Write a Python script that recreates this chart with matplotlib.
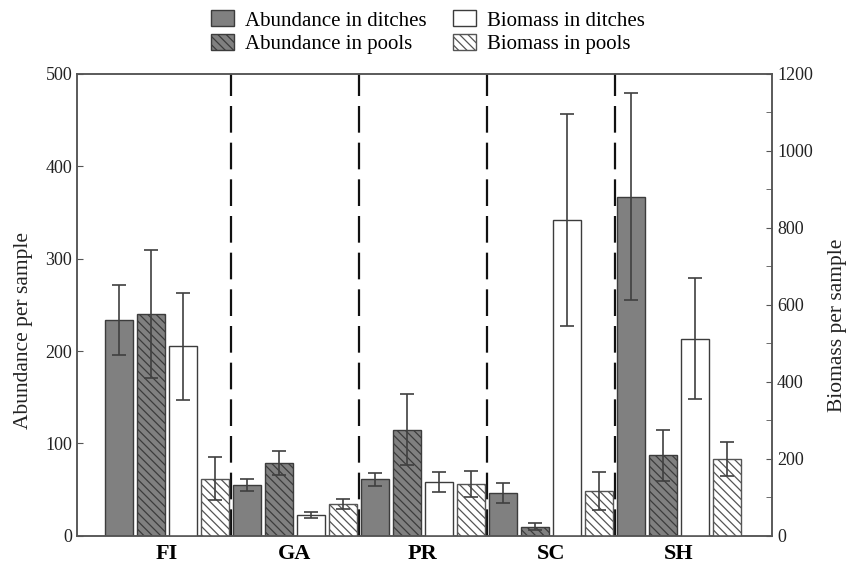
import numpy as np
import matplotlib
matplotlib.use("Agg")
from matplotlib import pyplot as plt
from matplotlib.ticker import MultipleLocator

plt.rcParams['font.family'] = ['Liberation Serif', 'DejaVu Serif']
plt.rcParams['hatch.linewidth'] = 0.9

# Data
sites = ["FI", "GA", "PR", "SC", "SH"]
abund_ditch = [234, 55, 61, 46, 367]
abund_ditch_err = [38, 6.5, 7.5, 11, 112]
abund_pool = [240, 79, 115, 10, 87]
abund_pool_err = [69, 13, 38, 3.6, 28]
bio_ditch = [492, 54, 140, 821, 512]
bio_ditch_err = [140, 7, 27, 276, 157]
bio_pool = [148, 83, 135, 116, 200]
bio_pool_err = [56, 13, 33, 49, 44]

edge = "#3c3c3c"
grey = "#808080"
width = 0.86

fig = plt.figure(figsize=(8.56, 5.64), dpi=100)
ax = fig.add_axes([0.090, 0.050, 0.812, 0.819])
ax2 = ax.twinx()

base = np.arange(len(sites)) * 4
err_kw = dict(ecolor="#404040", elinewidth=1.2, capsize=5, capthick=1.2)

b1 = ax.bar(base + 0, abund_ditch, width, yerr=abund_ditch_err, color=grey,
            edgecolor=edge, linewidth=1, error_kw=err_kw, label="Abundance in ditches")
b2 = ax.bar(base + 1, abund_pool, width, yerr=abund_pool_err, color=grey,
            edgecolor=edge, linewidth=1, hatch="\\\\\\\\", error_kw=err_kw,
            label="Abundance in pools")
b3 = ax2.bar(base + 2, bio_ditch, width, yerr=bio_ditch_err, color="white",
             edgecolor=edge, linewidth=1, error_kw=err_kw, label="Biomass in ditches")
b4 = ax2.bar(base + 3, bio_pool, width, yerr=bio_pool_err, color="white",
             edgecolor="#555555", linewidth=1, hatch="\\\\\\\\", error_kw=err_kw,
             label="Biomass in pools")

# dashed separators between sites
for xv in base[1:] - 0.5:
    ax.axvline(xv, color="#111111", lw=1.6, linestyle=(0, (12, 4.5)), zorder=0.5)

ax.set_xlim(-1.305, 20.414)
ax.set_ylim(0, 500)
ax2.set_ylim(0, 1200)
ax.yaxis.set_major_locator(MultipleLocator(100))
ax2.yaxis.set_major_locator(MultipleLocator(200))
ax2.yaxis.set_minor_locator(MultipleLocator(100))

ax.set_xticks(base + 1.5)
ax.set_xticklabels(sites, fontsize=16, fontweight="bold")
ax.tick_params(axis="x", length=0, pad=6)
ax.tick_params(axis="y", direction="in", length=4, labelsize=13, colors="#555555",
               labelcolor="#222222")
ax2.tick_params(axis="y", which="both", direction="in", length=4, labelsize=13,
                colors="#555555", labelcolor="#222222")

for a in (ax, ax2):
    for s in a.spines.values():
        s.set_color("#555555")
        s.set_linewidth(1.1)

ax.set_ylabel("Abundance per sample", fontsize=15.5, color="#222222")
ax2.set_ylabel("Biomass per sample", fontsize=15.5, color="#222222")
ax.yaxis.set_label_coords(-0.064, 0.444)
ax2.yaxis.set_label_coords(1.081, 0.455)

fig.legend(handles=[b1, b2, b3, b4], loc="upper center", bbox_to_anchor=(0.5, 1.0),
           ncol=2, frameon=False, fontsize=15, handlelength=1.1, handleheight=0.8,
           handletextpad=0.5, columnspacing=1.3, labelspacing=0.15,
           borderaxespad=0.1)

fig.savefig("out.png", dpi=100)
